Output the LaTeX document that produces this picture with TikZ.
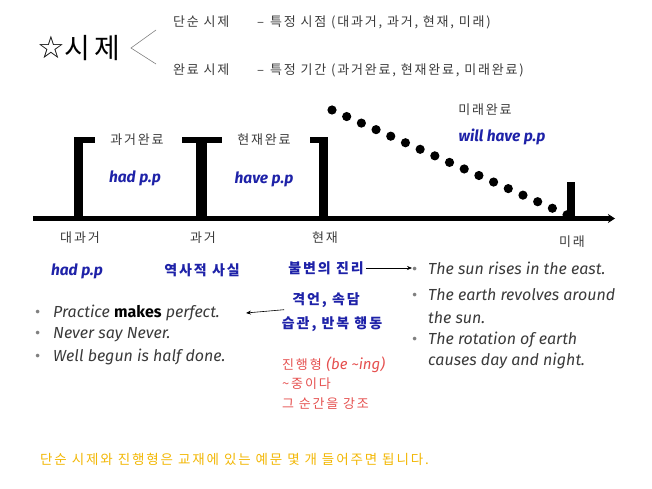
\documentclass[tikz,border=0pt]{standalone}
\usepackage{fontspec}
\setmainfont{Fira Sans}
\newfontfamily\kr{Noto Sans CJK KR}[LetterSpace=14]
\newfontfamily\sym{DejaVu Sans}
\usetikzlibrary{arrows.meta,positioning}
\definecolor{inkgray}{HTML}{3A3A3A}
\definecolor{inkblue}{HTML}{1E22A8}
\definecolor{inkred}{HTML}{E5504F}
\definecolor{inkgold}{HTML}{F2B705}

\begin{document}
\begin{tikzpicture}[x=1pt,y=-1pt,>=Stealth,inner sep=0pt]
      % Styles
      \tikzset{kor/.style={font=\kr\fontsize{13}{15}\selectfont,text=inkgray},
               korblue/.style={font=\kr\bfseries\fontsize{14}{16}\selectfont,text=inkblue},
               korred/.style={font=\kr\fontsize{13}{15}\selectfont,text=inkred,anchor=west},
               form/.style={font=\bfseries\itshape\fontsize{15.5}{17}\selectfont,text=inkblue},
               example/.style={font=\itshape\fontsize{16}{18}\selectfont,text=inkgray,anchor=west},
               bar/.style={fill=black},
               axis/.style={line width=5pt,-{Stealth[length=7pt,width=9pt]}},
               pointer/.style={->,line width=0.6pt,black,>={Stealth[length=5pt,width=4pt]}},
               fork/.style={line width=0.6pt,gray}}
      \newcommand{\bul}[1]{\makebox[#1][l]{\textcolor{gray}{\upshape\textbullet}}}

      \useasboundingbox (0,0) rectangle (652,489);

      % Title
      \node[anchor=west] (title) at (37,48) {{\sym\fontsize{31}{32}\selectfont ☆}{\kr\fontsize{28}{30}\selectfont 시제}};
      \coordinate (forktop) at (156,30);
      \coordinate (forktip) at (131,48);
      \coordinate (forkbot) at (156,64);
      \draw[fork] (forktop) -- (forktip) -- (forkbot);
      \node[kor,anchor=west] (simple) at (173,22) {단순 시제};
      \node[kor,anchor=west] (simpledef) at (257,22) {–\hspace{6pt}특정 시점 (대과거, 과거, 현재, 미래)};
      \node[kor,anchor=west] (perfect) at (173,70) {완료 시제};
      \node[kor,anchor=west] (perfectdef) at (257,70) {–\hspace{6pt}특정 기간 (과거완료, 현재완료, 미래완료)};

      % Dotted slope towards the future
      \foreach \i in {0,...,16}
        \fill (332+\i*14.69,110+\i*6.55) circle (4.6pt);

      % Brackets on the time line
      \fill[bar] (74,137) rectangle (95,143);
      \fill[bar] (74,137) rectangle (83,218);
      \fill[bar] (182,137) rectangle (222,143);
      \fill[bar] (196,137) rectangle (207,218);
      \fill[bar] (310,137) rectangle (328,143);
      \fill[bar] (319,137) rectangle (328,218);
      \fill[bar] (567,182) rectangle (575,218);

      % Time line
      \draw[axis] (33,218.5) -- (615,218.5);

      % Perfect tenses above the line
      \node[kor] (pastperf) at (137,140) {과거완료};
      \node[form] (hadpp) at (135,178) {had p.p};
      \node[kor] (presperf) at (264,140) {현재완료};
      \node[form] (havepp) at (264,179) {have p.p};
      \node[kor] (futperf) at (485,110) {미래완료};
      \node[form] (willpp) at (502,137) {will have p.p};

      % Points on the line
      \node[kor] (pastpast) at (80,238) {대과거};
      \node[kor] (past) at (203,238) {과거};
      \node[kor] (present) at (325,238) {현재};
      \node[kor] (future) at (572,242) {미래};

      % Uses of the simple tenses
      \node[form] (hadpp2) at (77,271) {had p.p};
      \node[korblue] (history) at (202,270) {역사적 사실};
      \node[korblue] (truth) at (326,268) {불변의 진리};
      \node[korblue] (proverb) at (326,300) {격언, 속담};
      \node[korblue] (habit) at (332,324) {습관, 반복 행동};

      % Examples
      \node[example] (practice) at (35,313) {\bul{18pt}Practice \textbf{\upshape\textcolor{black}{makes}} perfect.};
      \node[example] (never) at (35,335) {\bul{18pt}Never say Never.};
      \node[example] (begun) at (35,357) {\bul{18pt}Well begun is half done.};
      \node[example] (sun) at (412,268) {\bul{16pt}The sun rises in the east.};
      \node[example] (earth) at (412,295) {\bul{16pt}The earth revolves around};
      \node[example] (earth2) at (428,318) {the sun.};
      \node[example] (rotation) at (412,340) {\bul{16pt}The rotation of earth};
      \node[example] (rotation2) at (428,361) {causes day and night.};

      \draw[pointer] ([xshift=2pt]truth.east) -- (sun.west);
      \draw[pointer] ([xshift=-8pt,yshift=-2pt]proverb.south west) -- ([xshift=26pt]practice.east);

      % Progressive
      \node[korred] (prog) at (282,365) {진행형 {\itshape\fontspec{Fira Sans}\fontsize{15}{17}\selectfont (be \textasciitilde ing)}};
      \node[korred] (prog2) at (282,384) {\textasciitilde 중이다};
      \node[korred] (prog3) at (282,404) {그 순간을 강조};

      % Note at the bottom
      \node[kor,text=inkgold,anchor=west,font=\kr\fontsize{13.5}{15}\selectfont] (note) at (40,459) {단순 시제와 진행형은 교재에 있는 예문 몇 개 들어주면 됩니다.};
    \end{tikzpicture}
\end{document}
